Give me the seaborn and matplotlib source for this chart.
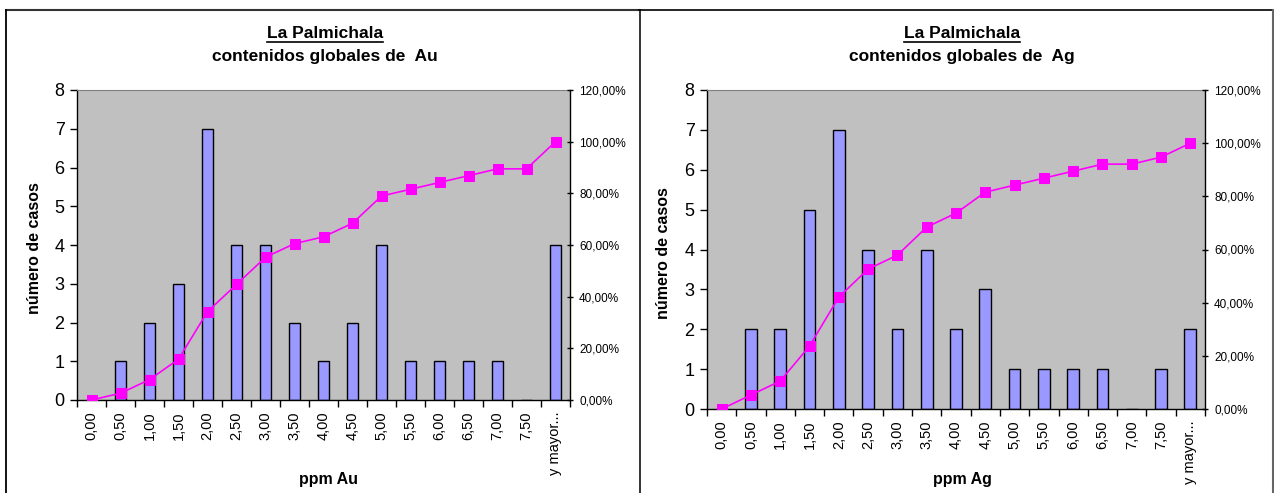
import numpy as np
import pandas as pd
import matplotlib
matplotlib.use('Agg')
import matplotlib.pyplot as plt
from matplotlib.lines import Line2D
from matplotlib.ticker import FuncFormatter, MultipleLocator
import seaborn as sns

# datos
clases = ['0,00', '0,50', '1,00', '1,50', '2,00', '2,50', '3,00', '3,50', '4,00',
          '4,50', '5,00', '5,50', '6,00', '6,50', '7,00', '7,50', 'y mayor...']
casos_au = [0, 1, 2, 3, 7, 4, 4, 2, 1, 2, 4, 1, 1, 1, 1, 0, 4]
acum_au = [0.0, 2.63, 7.89, 15.79, 34.21, 44.74, 55.26, 60.53, 63.16, 68.42,
           78.95, 81.58, 84.21, 86.84, 89.47, 89.47, 100.0]
casos_ag = [0, 2, 2, 5, 7, 4, 2, 4, 2, 3, 1, 1, 1, 1, 0, 1, 2]
acum_ag = [0.0, 5.26, 10.53, 23.68, 42.11, 52.63, 57.89, 68.42, 73.68, 81.58,
           84.21, 86.84, 89.47, 92.11, 92.11, 94.74, 100.0]

plt.rcParams['font.family'] = ['Liberation Sans', 'DejaVu Sans']

W, H = 1274, 493
fig = plt.figure(figsize=(W / 100, H / 100), dpi=100)


def fx(px):
    return px / W


def fy(py):
    return 1 - py / H


def panel(rect, casos, acum, metal, xc):
    ax = fig.add_axes(rect)
    n = len(clases)
    df = pd.DataFrame({'clase': clases, 'casos': casos, 'acum': acum, 'pos': np.arange(n)})
    ax.set_facecolor('#C0C0C0')
    sns.barplot(data=df, x='clase', y='casos', color='#9999FF', saturation=1,
                width=0.4, edgecolor='black', linewidth=1, ax=ax, zorder=2)
    ax.set_xlim(-0.5, n - 0.5)
    ax.set_ylim(0, 8)
    ax.yaxis.set_major_locator(MultipleLocator(1))
    ax.set_xticks(np.arange(n))
    ax.set_xticklabels(clases)
    ax.set_xticks(np.arange(n + 1) - 0.5, minor=True)
    ax.tick_params(axis='x', which='major', length=0, labelrotation=90, labelsize=10.5, pad=8)
    ax.tick_params(axis='x', which='minor', length=5, direction='out', width=1)
    ax.tick_params(axis='y', length=5, direction='out', labelsize=13, pad=4, width=1)
    ax.grid(False)
    for s in ['left', 'bottom']:
        ax.spines[s].set_color('black')
        ax.spines[s].set_linewidth(1)
    ax.spines['top'].set_color('#808080')
    ax.spines['right'].set_visible(False)
    ax.set_ylabel('número de casos', fontsize=11.5, fontweight='bold')
    ax.set_xlabel('ppm ' + metal, fontsize=11.5, fontweight='bold')
    ax.yaxis.set_label_coords(-0.072, 0.49)

    ax2 = ax.twinx()
    sns.lineplot(data=df, x='pos', y='acum', color='#FF00FF', marker='s', markersize=6.5,
                 markeredgecolor='#FF00FF', linewidth=1.2, ax=ax2)
    ax2.set_ylim(0, 120)
    ax2.set_xlim(-0.5, n - 0.5)
    ax2.yaxis.set_major_locator(MultipleLocator(20))
    ax2.yaxis.set_major_formatter(FuncFormatter(lambda v, p: f'{v:.2f}'.replace('.', ',') + '%'))
    ax2.tick_params(axis='y', length=5, direction='inout', labelsize=8.5, pad=4, width=1)
    ax2.set_ylabel('')
    ax2.set_xlabel('')
    ax2.spines['right'].set_color('black')
    ax2.spines['right'].set_linewidth(1)
    for s in ['top', 'left', 'bottom']:
        ax2.spines[s].set_visible(False)

    t1 = fig.text(fx(xc), fy(33), 'La Palmichala', ha='center', va='center',
                  fontsize=12.5, fontweight='bold')
    fig.text(fx(xc), fy(57), 'contenidos globales de  ' + metal, ha='center', va='center',
             fontsize=12.5, fontweight='bold')
    return ax, t1


ax_l, t_l = panel([fx(77), fy(400), fx(570) - fx(77), fy(90) - fy(400)], casos_au, acum_au, 'Au', 325)
ax_r, t_r = panel([fx(707), fy(409), fx(1205) - fx(707), fy(90) - fy(409)], casos_ag, acum_ag, 'Ag', 962)
ax_l.xaxis.set_label_coords(0.51, -0.232)
ax_r.xaxis.set_label_coords(0.512, -0.197)

# subrayado de los titulos
fig.canvas.draw()
r = fig.canvas.get_renderer()
for t in (t_l, t_r):
    bb = t.get_window_extent(r)
    fig.add_artist(Line2D([bb.x0 / W, bb.x1 / W], [fy(42), fy(42)], color='black', lw=1.2))

# marcos de los graficos
fig.add_artist(Line2D([fx(6), fx(639)], [fy(10), fy(10)], color='#333333', lw=1.5))
fig.add_artist(Line2D([fx(6), fx(6)], [fy(10), 0], color='black', lw=1.3))
fig.add_artist(Line2D([fx(639.5), fx(639.5)], [fy(10), 0], color='#222222', lw=1.3))
fig.add_artist(Line2D([fx(639), fx(1273)], [fy(9.5), fy(9.5)], color='black', lw=1.2))
fig.add_artist(Line2D([fx(1273), fx(1273)], [fy(9.5), 0], color='#666666', lw=1.5))

fig.savefig('out.png', dpi=100)
